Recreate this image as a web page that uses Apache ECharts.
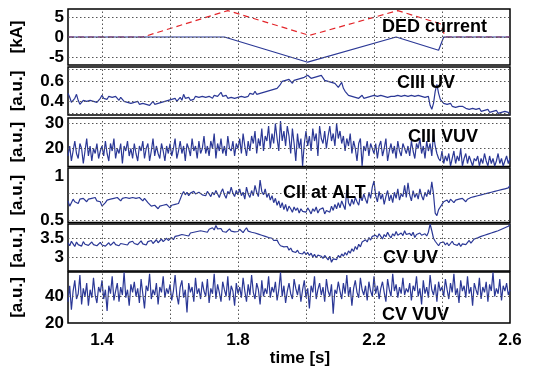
<!DOCTYPE html>
<html>
<head>
<meta charset="utf-8">
<script src="https://cdn.jsdelivr.net/npm/echarts@6/dist/echarts.min.js"></script>
<style>html,body{margin:0;padding:0;background:#fff}#c{width:546px;height:368px}</style>
</head>
<body>
<div id="c"></div>
<script>
// ---- data ----
const T0 = 1.3, DT = 0.005;              // sampling of the diagnostic traces
const xTickLabels = [1.4, 1.8, 2.2, 2.6];
const xGridVals = [1.4, 1.6, 1.8, 2.0, 2.2, 2.4];

const panelLabels = ['DED current', 'CIII UV', 'CIII VUV', 'CII at ALT', 'CV UV', 'CV VUV'];
const yUnits = ['[kA]', '[a.u.]', '[a.u.]', '[a.u.]', '[a.u.]', '[a.u.]'];
const yTickLabels = [[-5, 0, 5], [0.4, 0.6], [20, 30], [0.5, 1], [3, 3.5], [20, 40]];
const yGridVals = [[-5, 0, 5], [0.285, 0.4, 0.6, 0.725], [20, 30], [0.5, 0.81], [3, 3.5], [40]];
const yRanges = [[-7, 7], [0.263, 0.743], [12.8, 32.2], [0.471, 1.10], [2.626, 3.88], [20, 58.3]];

// DED coil currents [t, kA]
const dedRed = [[1.3,0],[1.52,0],[1.77,6.6],[2.01,0.4],[2.27,6.6],[2.395,3.3],[2.41,0],[2.6,0]];
const dedBlue = [[1.3,0],[1.76,0],[2.005,-6.3],[2.265,0],[2.39,-3.3],[2.405,0],[2.6,0]];

const ciiiUV = [
0.48,0.44,0.39,0.38,0.43,0.47,0.41,0.37,0.39,0.41,0.39,0.40,0.38,0.41,0.39,0.40,0.42,0.39,0.41,0.43,
0.46,0.43,0.44,0.42,0.45,0.43,0.44,0.42,0.45,0.43,0.41,0.44,0.42,0.40,0.41,0.39,0.40,0.38,0.40,0.39,
0.38,0.40,0.37,0.39,0.38,0.40,0.37,0.39,0.36,0.38,0.40,0.37,0.39,0.38,0.40,0.39,0.37,0.40,0.38,0.41,
0.40,0.42,0.41,0.43,0.40,0.42,0.44,0.41,0.47,0.43,0.42,0.44,0.41,0.43,0.42,0.45,0.43,0.44,0.42,0.45,
0.43,0.44,0.42,0.45,0.44,0.43,0.46,0.44,0.45,0.43,0.49,0.45,0.44,0.46,0.43,0.45,0.44,0.46,0.43,0.45,
0.44,0.46,0.45,0.47,0.44,0.46,0.45,0.48,0.46,0.47,0.50,0.47,0.46,0.48,0.47,0.49,0.47,0.50,0.49,0.51,
0.49,0.52,0.50,0.53,0.51,0.57,0.60,0.58,0.61,0.59,0.62,0.60,0.58,0.61,0.59,0.62,0.60,0.63,0.61,0.64,
0.62,0.66,0.68,0.63,0.61,0.64,0.62,0.65,0.63,0.66,0.64,0.61,0.63,0.60,0.62,0.59,0.61,0.58,0.56,0.54,
0.55,0.59,0.53,0.50,0.48,0.46,0.47,0.45,0.46,0.44,0.45,0.43,0.44,0.46,0.43,0.45,0.44,0.43,0.45,0.44,
0.46,0.44,0.45,0.43,0.46,0.44,0.45,0.47,0.44,0.46,0.45,0.43,0.45,0.44,0.46,0.44,0.45,0.43,0.46,0.44,
0.45,0.43,0.46,0.44,0.45,0.43,0.46,0.44,0.45,0.43,0.44,0.46,0.45,0.36,0.32,0.38,0.50,0.57,0.48,0.42,
0.40,0.38,0.39,0.37,0.36,0.38,0.35,0.36,0.34,0.36,0.35,0.33,0.35,0.34,0.33,0.35,0.32,0.34,0.33,0.31,
0.32,0.31,0.33,0.30,0.32,0.31,0.30,0.32,0.29,0.31,0.30,0.29,0.31,0.28,0.30,0.29,0.28,0.30,0.28,0.29,
0.27];

const ciiiVUV = [
17,21,15,19,23,18,16,22,20,14,19,24,17,21,15,20,18,22,16,19,
21,17,23,18,15,22,19,24,16,20,18,22,14,21,19,23,17,20,16,22,
18,15,21,19,23,16,20,22,15,19,24,17,21,18,16,22,19,15,21,18,
22,17,20,24,16,19,23,18,21,15,22,20,17,24,19,21,16,23,18,20,
25,18,21,17,23,20,26,16,22,19,24,18,21,17,25,20,19,23,17,22,
20,24,18,26,21,17,23,19,25,22,27,18,24,21,28,19,25,23,29,20,
26,22,30,24,19,31,23,27,21,29,25,18,28,22,15,26,20,24,13,22,
27,21,25,19,28,23,26,17,29,24,22,27,20,25,29,23,26,21,30,24,
27,22,25,19,24,21,26,18,23,20,15,22,24,13,21,19,23,17,22,20,
18,22,16,21,23,17,20,24,15,19,22,18,21,16,23,19,17,22,20,18,
21,17,23,19,16,22,20,24,18,21,16,23,19,22,17,26,21,18,16,15,
19,14,17,15,18,13,16,19,14,17,15,20,13,16,18,14,17,15,13,16,
15,17,13,16,14,18,15,13,17,14,16,13,15,18,14,16,13,15,17,14,
16];

const ciiALT = [
0.72,0.66,0.70,0.74,0.71,0.73,0.69,0.74,0.72,0.75,0.73,0.71,0.74,0.72,0.75,0.73,0.76,0.72,0.74,0.71,
0.66,0.64,0.70,0.73,0.71,0.74,0.72,0.75,0.73,0.76,0.74,0.72,0.75,0.73,0.76,0.74,0.75,0.73,0.76,0.74,
0.75,0.73,0.76,0.74,0.72,0.75,0.73,0.70,0.68,0.66,0.64,0.67,0.65,0.63,0.66,0.64,0.67,0.65,0.68,0.66,
0.64,0.67,0.65,0.68,0.66,0.69,0.67,0.79,0.83,0.79,0.82,0.78,0.81,0.79,0.83,0.80,0.78,0.82,0.80,0.79,
0.81,0.78,0.83,0.80,0.77,0.82,0.79,0.84,0.80,0.76,0.82,0.86,0.79,0.75,0.83,0.80,0.88,0.81,0.77,0.84,
0.79,0.86,0.78,0.82,0.74,0.88,0.80,0.76,0.84,0.78,0.90,0.82,0.77,0.96,0.83,0.79,0.86,0.76,0.81,0.73,
0.78,0.70,0.75,0.67,0.72,0.64,0.70,0.62,0.68,0.60,0.66,0.63,0.59,0.65,0.61,0.64,0.58,0.63,0.60,0.62,
0.59,0.64,0.61,0.57,0.63,0.60,0.65,0.58,0.62,0.60,0.64,0.57,0.61,0.63,0.59,0.66,0.61,0.68,0.63,0.70,
0.64,0.72,0.67,0.62,0.85,0.70,0.66,0.74,0.68,0.76,0.71,0.67,0.78,0.72,0.80,0.74,0.69,0.82,0.75,0.88,
0.95,0.78,0.71,0.83,0.74,0.80,0.68,0.77,0.84,0.72,0.79,0.70,0.82,0.75,0.86,0.73,0.80,0.77,0.90,0.76,
0.93,0.79,0.72,0.84,0.76,0.81,0.74,0.86,0.78,0.73,0.82,0.77,0.85,0.79,0.94,0.80,0.58,0.55,0.62,0.65,
0.68,0.71,0.69,0.73,0.70,0.74,0.72,0.70,0.73,0.71,0.74,0.72,0.75,0.73,0.71,0.74,0.72,0.76,0.74,0.77,
0.75,0.78,0.76,0.79,0.77,0.80,0.78,0.81,0.79,0.82,0.80,0.83,0.81,0.84,0.82,0.85,0.83,0.86,0.84,0.87,
0.90];

const cvUV = [
3.38,3.30,3.42,3.35,3.28,3.40,3.33,3.37,3.29,3.41,3.34,3.38,3.31,3.36,3.40,3.33,3.37,3.30,3.35,3.39,
3.32,3.36,3.29,3.34,3.38,3.31,3.35,3.40,3.33,3.37,3.30,3.36,3.41,3.34,3.38,3.32,3.39,3.35,3.42,3.36,
3.40,3.33,3.38,3.43,3.35,3.39,3.32,3.41,3.37,3.44,3.36,3.40,3.46,3.38,3.43,3.48,3.41,3.45,3.50,3.44,
3.48,3.52,3.46,3.55,3.50,3.57,3.53,3.60,3.55,3.58,3.62,3.56,3.64,3.60,3.66,3.61,3.68,3.63,3.70,3.65,
3.68,3.72,3.66,3.74,3.70,3.78,3.72,3.84,3.75,3.70,3.76,3.68,3.73,3.66,3.71,3.75,3.69,3.73,3.67,3.72,
3.68,3.74,3.70,3.65,3.72,3.78,3.69,3.73,3.66,3.70,3.64,3.68,3.61,3.65,3.58,3.62,3.55,3.59,3.52,3.48,
3.50,3.44,3.40,3.45,3.36,3.30,3.35,3.27,3.22,3.28,3.18,3.24,3.15,3.20,3.12,3.18,3.10,3.15,3.08,3.14,
3.06,3.12,3.04,3.10,3.00,3.07,2.98,3.05,3.10,3.02,2.96,3.04,2.99,2.92,3.02,2.86,2.95,3.00,2.93,3.04,
2.98,3.08,3.02,3.12,3.05,3.16,3.10,3.22,3.15,3.28,3.20,3.34,3.27,3.40,3.35,3.46,3.40,3.52,3.45,3.55,
3.50,3.58,3.52,3.62,3.55,3.48,3.60,3.54,3.66,3.57,3.51,3.62,3.56,3.68,3.58,3.53,3.64,3.57,3.70,3.60,
3.55,3.63,3.57,3.66,3.52,3.60,3.56,3.64,3.58,3.53,3.62,3.56,3.66,3.88,3.70,3.50,3.42,3.36,3.30,3.38,
3.34,3.40,3.32,3.38,3.30,3.36,3.42,3.34,3.39,3.31,3.37,3.28,3.35,3.40,3.33,3.38,3.44,3.37,3.42,3.48,
3.45,3.51,3.48,3.55,3.50,3.58,3.53,3.61,3.56,3.64,3.60,3.67,3.63,3.70,3.66,3.74,3.70,3.78,3.75,3.82,
3.86];

const cvVUV = [
36,48,30,44,52,38,42,56,34,46,40,50,33,45,39,54,41,35,47,43,
52,38,45,29,48,42,55,37,44,50,36,47,41,58,39,45,33,49,43,51,
40,46,35,53,42,31,48,44,57,38,45,41,50,34,47,43,55,39,46,42,
49,37,44,56,41,34,47,52,39,45,28,50,43,47,36,54,42,46,38,51,
44,40,53,35,46,42,57,38,49,43,36,51,45,40,55,37,48,44,33,50,
42,47,39,54,44,36,49,41,56,43,38,50,45,34,52,40,46,42,55,39,
47,43,51,37,45,58,40,48,35,44,50,42,38,53,46,41,49,36,45,52,
39,46,31,48,43,55,38,45,50,41,47,36,53,44,40,49,27,45,42,51,
44,38,50,42,56,40,47,33,46,52,43,39,54,45,41,48,37,51,44,40,
55,42,48,38,46,51,43,36,53,45,40,57,44,49,39,47,42,54,41,46,
43,50,37,48,44,55,40,46,34,52,42,47,39,56,45,41,49,36,51,44,
47,40,53,45,38,50,43,57,41,46,35,52,44,48,39,55,42,47,33,50,
45,41,54,38,47,43,51,36,49,44,58,40,46,42,53,37,48,44,50,41,
45];

// ---- layout / style ----
const FONT = '"Liberation Sans", Arial, sans-serif';
const panelTops = [9, 67, 118, 168, 224, 272];
const panelHeights = [56, 48, 48.5, 54.5, 47, 55];
const labelPos = [[382, 27], [397, 83], [408, 137], [283, 193], [383, 258], [382, 315]];
const BLUE = '#2b3896';
const RED = '#e3262b';

const toXY = vals => vals.map((v, i) => [+(T0 + i * DT).toFixed(3), v]);
const traces = [null, ciiiUV, ciiiVUV, ciiALT, cvUV, cvVUV];

const grids = panelTops.map((t, i) => ({
  left: 68, width: 442, top: t, height: panelHeights[i],
  show: true, borderColor: '#000', borderWidth: 1.5, backgroundColor: 'transparent'
}));

const xAxes = panelTops.map((t, i) => ({
  type: 'value', gridIndex: i, min: 1.3, max: 2.6,
  axisLine: { show: false }, axisTick: { show: false }, splitLine: { show: false },
  axisLabel: i === 5 ? {
    customValues: xTickLabels, color: '#000', fontSize: 17, fontWeight: 'bold',
    fontFamily: FONT, margin: 9, formatter: v => String(v)
  } : { show: false },
  name: i === 5 ? 'time [s]' : '',
  nameLocation: 'middle', nameGap: 27,
  nameTextStyle: { color: '#000', fontSize: 17, fontWeight: 'bold', fontFamily: FONT, padding: [0, 0, 0, 22] }
}));

const yAxes = panelTops.map((t, i) => ({
  type: 'value', gridIndex: i, min: yRanges[i][0], max: yRanges[i][1],
  axisLine: { show: false }, axisTick: { show: false }, splitLine: { show: false },
  axisLabel: {
    customValues: yTickLabels[i], color: '#000', fontSize: 17, fontWeight: 'bold',
    fontFamily: FONT, margin: 4, formatter: v => String(v)
  },
  name: yUnits[i], nameLocation: 'middle', nameGap: 42, nameRotate: 90,
  nameTextStyle: { color: '#000', fontSize: 17, fontWeight: 'bold', fontFamily: FONT }
}));

const series = [];
panelTops.forEach((t, i) => {
  series.push({
    type: 'line', xAxisIndex: i, yAxisIndex: i, data: [], z: 1, silent: true,
    markLine: {
      silent: true, symbol: 'none', animation: false, label: { show: false },
      lineStyle: { color: '#555', type: [1.5, 2.5], width: 1 },
      data: xGridVals.map(x => ({ xAxis: x })).concat(yGridVals[i].map(y => ({ yAxis: y })))
    }
  });
});
series.push({
  type: 'line', xAxisIndex: 0, yAxisIndex: 0, data: dedRed, showSymbol: false, z: 3,
  lineStyle: { color: RED, width: 1.2, type: [6, 4] }, animation: false
});
series.push({
  type: 'line', xAxisIndex: 0, yAxisIndex: 0, data: dedBlue, showSymbol: false, z: 3,
  lineStyle: { color: BLUE, width: 1.2 }, animation: false
});
for (let i = 1; i < 6; i++) {
  series.push({
    type: 'line', xAxisIndex: i, yAxisIndex: i, data: toXY(traces[i]), showSymbol: false, z: 3,
    lineStyle: { color: BLUE, width: 1.2 }, animation: false
  });
}

const graphic = panelLabels.map((txt, i) => ({
  type: 'text', x: labelPos[i][0], y: labelPos[i][1], z: 100,
  style: { text: txt, font: 'bold 18px ' + FONT, fill: '#000', verticalAlign: 'middle' }
}));

const chart = echarts.init(document.getElementById('c'), null, { renderer: 'canvas' });
chart.setOption({
  animation: false,
  backgroundColor: '#fff',
  grid: grids, xAxis: xAxes, yAxis: yAxes, series: series, graphic: graphic
});
</script>
</body>
</html>
